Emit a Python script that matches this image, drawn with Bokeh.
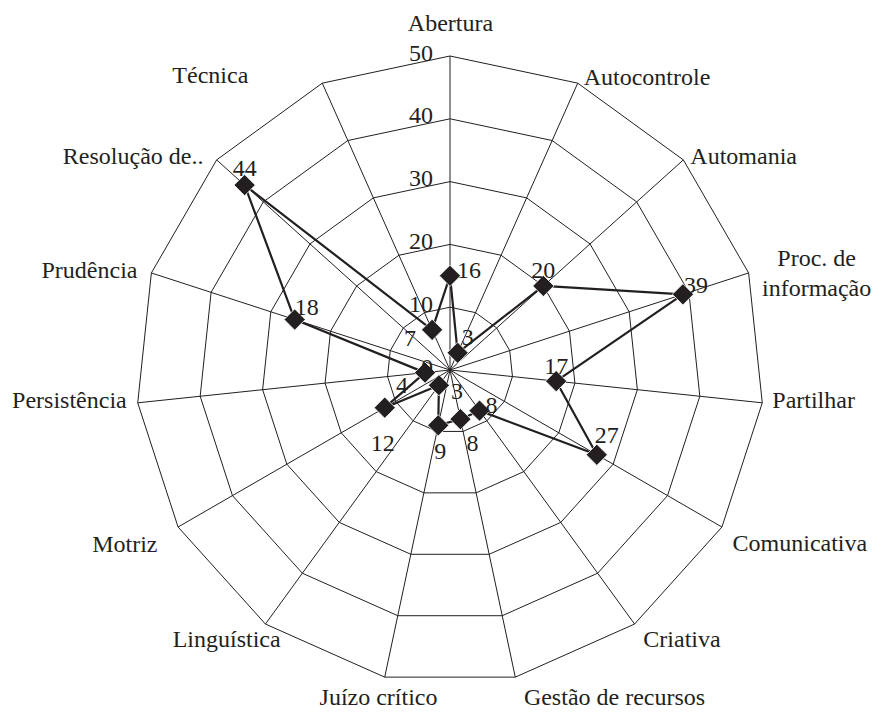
import numpy as np
from bokeh.plotting import figure
from bokeh.models import ColumnDataSource, Range1d
from bokeh.core.properties import value
from bokeh.embed import file_html
from bokeh.resources import INLINE

# ---- data ----
categorias = ["Abertura", "Autocontrole", "Automania", "Proc. de\ninformação", "Partilhar",
              "Comunicativa", "Criativa", "Gestão de recursos", "Juízo crítico", "Linguística",
              "Motriz", "Persistência", "Prudência", "Resolução de..", "Técnica"]
valores = [15, 3, 20, 39, 17, 27, 8, 8, 9, 3, 12, 4, 26, 44, 7]
rotulos = ["16", "3", "20", "39", "17", "27", "8", "8", "9", "3", "12", "4", "18", "44", "7"]
escala = [0, 10, 20, 30, 40, 50]

# ---- layout / style ----
INK = "#231f20"
FONT = value("Liberation Serif")
FS = "24px"
W, H = 878, 714
CX, CY = 449.5, 369.5          # centre in figure pixels
RPX = 314.0                    # pixels for the outer ring
R = escala[-1]
k = RPX / R

# label layout for categories: (align, dx, dy) in px relative to outer vertex
cat_layout = [("center", 0.5, -33), ("left", 6, -6.5), ("left", 7, -4), ("center", 68, -15.4),
              ("left", 10, -2.7), ("left", 10.6, 15.5), ("left", 8.8, 15.4), ("left", 8.6, 20),
              ("center", -6.2, 20), ("right", 15.2, 15.4), ("right", -20.6, 16.5), ("right", -11, -2.7),
              ("right", -13.9, -3.4), ("right", -13.2, -4), ("right", -74, -7.7)]
# data label layout: (align, dx, dy) relative to marker
val_layout = [("left", 7, -5), ("left", 4, -15), ("center", 0, -15), ("left", 1, -9),
              ("center", 0, -15), ("left", -2, -19), ("center", 12, -5), ("center", 12, 24),
              ("center", 2, 26), ("center", 18, 6), ("center", -2, 36), ("center", -23, 13),
              ("left", 0, -12), ("center", 0, -17), ("center", -22, 9)]

n = len(categorias)
ang = 2 * np.pi * np.arange(n) / n
sn, cs = np.sin(ang), np.cos(ang)

p = figure(width=W, height=H, output_backend="svg", toolbar_location=None,
           x_range=Range1d(-CX / k, (W - CX) / k), y_range=Range1d(-(H - CY) / k, CY / k),
           x_axis_location=None, y_axis_location=None, min_border=0)
p.grid.visible = False
p.outline_line_color = None
p.background_fill_color = "white"
p.border_fill_color = "white"

# rings
ring_xs = [list(r * sn) + [r * sn[0]] for r in escala[1:]]
ring_ys = [list(r * cs) + [r * cs[0]] for r in escala[1:]]
p.multi_line(ring_xs, ring_ys, line_color=INK, line_width=1)
# spokes
p.segment(x0=np.zeros(n), y0=np.zeros(n), x1=R * sn, y1=R * cs, line_color=INK, line_width=1)

# data series
v = np.array(valores, dtype=float)
dx_ = v * sn
dy_ = v * cs
p.line(list(dx_) + [dx_[0]], list(dy_) + [dy_[0]], line_color=INK, line_width=2.2)
p.scatter(dx_, dy_, marker="square", angle=np.pi / 4, size=15,
          fill_color=INK, line_color="white", line_width=0.8)


def add_texts(rows):
    groups = {}
    for (x, y, t, al, ox, oy) in rows:
        groups.setdefault(al, []).append((x, y, t, ox, oy))
    for al, items in groups.items():
        src = ColumnDataSource(dict(x=[i[0] for i in items], y=[i[1] for i in items],
                                    text=[i[2] for i in items], ox=[i[3] for i in items],
                                    oy=[i[4] for i in items]))
        p.text(x="x", y="y", text="text", x_offset="ox", y_offset="oy", source=src,
               text_align=al, text_baseline="alphabetic", text_font=FONT,
               text_font_size=FS, text_color=INK)


# category labels
rows = []
for i, name in enumerate(categorias):
    al, ox, oy = cat_layout[i]
    for j, line in enumerate(name.split("\n")):
        rows.append((R * sn[i], R * cs[i], line, al, ox, oy + 30 * j))
add_texts(rows)

# scale labels along first axis
rows = [(0.0, float(s), str(s), "right", -17, -3) for s in escala]
add_texts(rows)

# value labels
rows = []
for i, lab in enumerate(rotulos):
    al, ox, oy = val_layout[i]
    rows.append((dx_[i], dy_[i], lab, al, ox, oy))
add_texts(rows)

open("out.html", "w").write(file_html(p, INLINE))
